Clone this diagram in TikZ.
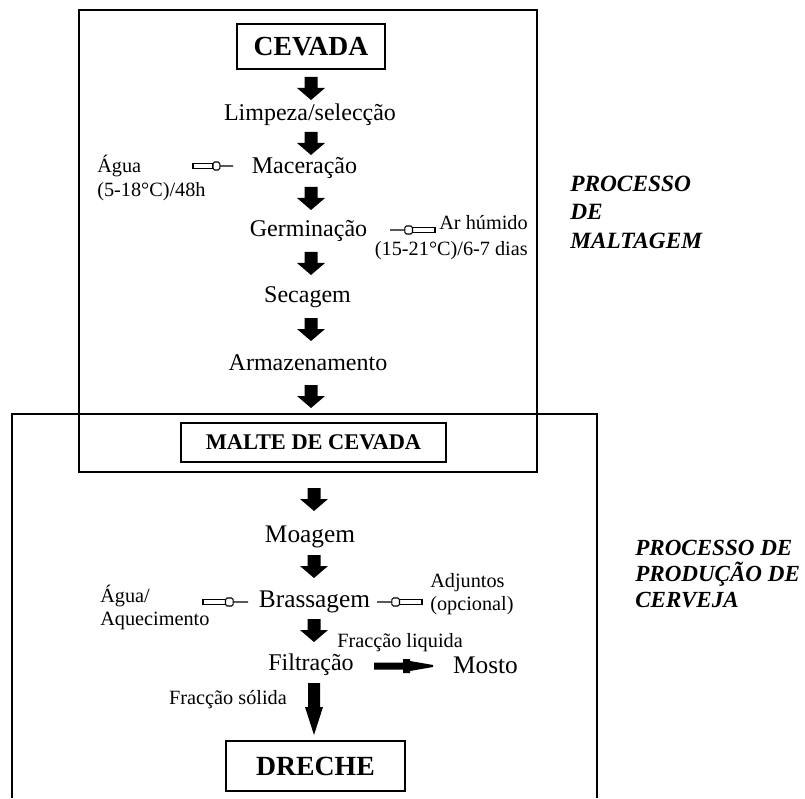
\documentclass[tikz,border=0pt]{standalone}
\usepackage{fontspec}
\setmainfont{Liberation Serif}
\usetikzlibrary{calc}
\tikzset{
  frame/.style={line width=1pt},
  boxnode/.style={draw, line width=1pt, inner sep=0pt, font=\bfseries},
  stepu/.style={inner sep=0pt, font=\fontsize{18pt}{21pt}\selectfont},
  stepl/.style={inner sep=0pt, font=\fontsize{19pt}{22pt}\selectfont},
  smalltxt/.style={inner sep=0pt, font=\fontsize{15.2pt}{18pt}\selectfont},
  proc/.style={inner sep=0pt, align=left, anchor=west},
  valveline/.style={line width=0.8pt, fill=white},
  blockfill/.style={fill=black}
}
\newcommand\blkdown[1]{\fill[blockfill] (#1) ++(-6.5,0) -- ++(13,0) -- ++(0,11) -- ++(7.5,0) -- ++(-14,12) -- ++(-14,-12) -- ++(7.5,0) -- cycle;}
\newcommand\valve[2]{%
  \draw[valveline] ($(#1)+(0,-2.5)$) rectangle ($(#1)!0.5!(#2)+(0,2.5)$);
  \draw[valveline, rounded corners=1.2pt] ($(#1)!0.5!(#2)+(0,-4)$) rectangle ($(#1)!0.67!(#2)+(0,4)$);
  \draw[line width=0.8pt] ($(#1)!0.67!(#2)$) -- (#2);
}
\begin{document}
\begin{tikzpicture}[x=0.75pt,y=-0.75pt]
\useasboundingbox (0,0) rectangle (805,798);

% frames
\draw[frame] (79,10) rectangle (537,472);
\draw[frame] (12,798) -- (12,414) -- (597,414) -- (597,798);

% boxed nodes
\node[boxnode, minimum width=111pt, minimum height=33.75pt, font=\bfseries\fontsize{20.7pt}{23pt}\selectfont] (cevada) at (311,46.5) {CEVADA};
\node[boxnode, minimum width=198.75pt, minimum height=29.25pt, font=\bfseries\fontsize{16.8pt}{19pt}\selectfont] (malte) at (313.5,442.5) {MALTE DE CEVADA};
\node[boxnode, minimum width=134.25pt, minimum height=37.5pt, font=\bfseries\fontsize{20.8pt}{23pt}\selectfont] (dreche) at (315.5,766) {DRECHE};

% steps (upper)
\node[stepu] (limp) at (310,115) {Limpeza/selecção};
\node[stepu] (mac) at (304.5,168) {Maceração};
\node[stepu] (germ) at (308.5,231) {Germinação};
\node[stepu] (sec) at (307.5,297) {Secagem};
\node[stepu] (arm) at (308,363) {Armazenamento};

% steps (lower)
\node[stepl] (moagem) at (310,537) {Moagem};
\node[stepl] (brass) at (314.5,602) {Brassagem};
\node[stepu] (filtr) at (311,665) {Filtração};
\node[stepl] (mosto) at (485.5,665) {Mosto};

% side labels
\node[smalltxt, align=left, anchor=west] (agua) at (97,178) {Água\\(5-18°C)/48h};
\node[smalltxt, align=right, anchor=east, font=\fontsize{15.2pt}{19.5pt}\selectfont] (ar) at (528,238) {Ar húmido\\(15-21°C)/6-7 dias};
\node[smalltxt, align=left, anchor=west, font=\fontsize{15.2pt}{17.25pt}\selectfont] (aguaq) at (100,607) {Água/\\Aquecimento};
\node[smalltxt, align=left, anchor=west, font=\fontsize{15.2pt}{17pt}\selectfont] (adj) at (430,594) {Adjuntos\\(opcional)};
\node[smalltxt] (fliq) at (400,643) {Fracção liquida};
\node[smalltxt] (fsol) at (228,700) {Fracção sólida};

% process labels
\node[proc, font=\bfseries\itshape\fontsize{17.5pt}{21.4pt}\selectfont] (pmalt) at (570,212) {PROCESSO\\DE\\MALTAGEM};
\node[proc, font=\bfseries\itshape\fontsize{17.3pt}{19.5pt}\selectfont] (pprod) at (635,574) {PROCESSO DE\\PRODUÇÃO DE\\CERVEJA};

% block arrows
\coordinate (b1) at (311,77);
\coordinate (b2) at (311,132);
\coordinate (b3) at (311,187);
\coordinate (b4) at (311,252);
\coordinate (b5) at (311,318);
\coordinate (b6) at (311,385);
\coordinate (b7) at (314,488);
\coordinate (b8) at (314,555);
\coordinate (b9) at (314,619);
\blkdown{b1}\blkdown{b2}\blkdown{b3}\blkdown{b4}\blkdown{b5}
\blkdown{b6}\blkdown{b7}\blkdown{b8}\blkdown{b9}

% Filtracao -> Mosto
\coordinate (fm) at (374,666);
\fill[blockfill] (fm) -- ++(0,-3.5) -- ++(29,0) -- ++(0,-3.5) -- ++(7,0) -- ++(0,2) -- ++(23,4) -- ++(0,2) -- ++(-23,4) -- ++(0,2) -- ++(-7,0) -- ++(0,-3.5) -- ++(-29,0) -- cycle;

% Filtracao -> Dreche
\coordinate (fs) at (314,683);
\fill[blockfill] (fs) ++(-6,0) -- ++(12,0) -- ++(0,24) -- ++(3,0) -- ++(-9,28) -- ++(-9,-28) -- ++(3,0) -- cycle;

% valve arrows
\coordinate (v1t) at (193,166);
\coordinate (v1p) at (233,166);
\coordinate (v2t) at (435,230);
\coordinate (v2p) at (390,230);
\coordinate (v3t) at (203,602);
\coordinate (v3p) at (248,602);
\coordinate (v4t) at (422,602);
\coordinate (v4p) at (377,602);
\valve{v1t}{v1p}
\valve{v2t}{v2p}
\valve{v3t}{v3p}
\valve{v4t}{v4p}
\end{tikzpicture}
\end{document}
